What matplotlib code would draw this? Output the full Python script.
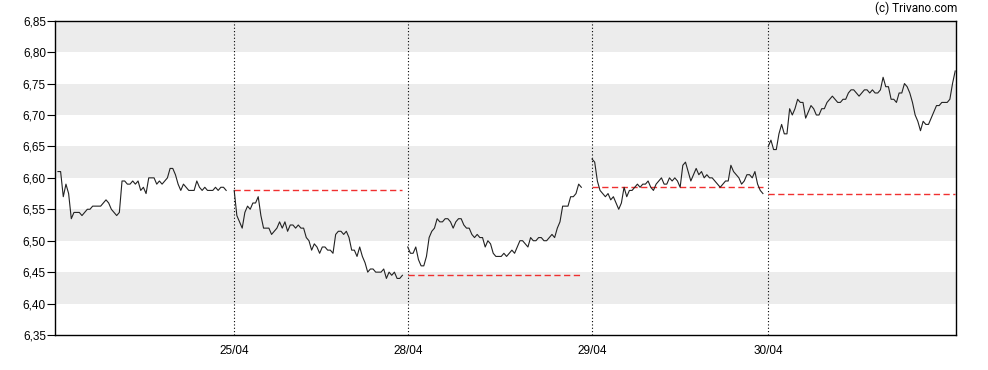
import numpy as np
import matplotlib.pyplot as plt

# intraday prices, one list per trading day
day1 = [6.61, 6.61, 6.57, 6.59, 6.575, 6.535, 6.545, 6.545, 6.545, 6.54,
        6.545, 6.55, 6.55, 6.555, 6.555, 6.555, 6.555, 6.56, 6.565, 6.56,
        6.55, 6.545, 6.54, 6.545, 6.595, 6.595, 6.59, 6.59, 6.595, 6.59,
        6.595, 6.58, 6.585, 6.575, 6.60, 6.60, 6.60, 6.59, 6.595, 6.59,
        6.595, 6.60, 6.615, 6.615, 6.605, 6.59, 6.58, 6.59, 6.585, 6.58,
        6.58, 6.58, 6.595, 6.585, 6.58, 6.585, 6.58, 6.58, 6.58, 6.585,
        6.58, 6.585, 6.585, 6.58]
day2 = [6.58, 6.54, 6.53, 6.52, 6.545, 6.555, 6.55, 6.56, 6.56, 6.57,
        6.54, 6.52, 6.52, 6.52, 6.51, 6.515, 6.52, 6.53, 6.52, 6.53,
        6.515, 6.525, 6.525, 6.52, 6.525, 6.52, 6.52, 6.505, 6.50, 6.485,
        6.495, 6.49, 6.48, 6.49, 6.49, 6.485, 6.485, 6.48, 6.51, 6.515,
        6.515, 6.51, 6.515, 6.505, 6.485, 6.485, 6.475, 6.49, 6.475, 6.465,
        6.45, 6.455, 6.455, 6.45, 6.45, 6.45, 6.455, 6.44, 6.45, 6.445,
        6.45, 6.44, 6.44, 6.445]
day3 = [6.49, 6.48, 6.48, 6.49, 6.47, 6.46, 6.46, 6.475, 6.505, 6.515,
        6.52, 6.535, 6.53, 6.53, 6.535, 6.535, 6.53, 6.52, 6.53,
        6.535, 6.535, 6.525, 6.52, 6.52, 6.51, 6.505, 6.51, 6.505, 6.505,
        6.49, 6.50, 6.495, 6.48, 6.475, 6.475, 6.475, 6.48, 6.475, 6.48,
        6.485, 6.48, 6.49, 6.50, 6.50, 6.495, 6.49, 6.505, 6.50, 6.50,
        6.505, 6.505, 6.50, 6.50, 6.505, 6.51, 6.505, 6.52, 6.53,
        6.555, 6.555, 6.555, 6.57, 6.57, 6.575, 6.59, 6.585]
day4 = [6.63, 6.625, 6.595, 6.58, 6.575, 6.57, 6.575, 6.565, 6.57, 6.56,
        6.55, 6.56, 6.585, 6.57, 6.58, 6.58, 6.585, 6.59,
        6.585, 6.59, 6.59, 6.595, 6.585, 6.58, 6.59, 6.595, 6.60, 6.59,
        6.59, 6.60, 6.595, 6.60, 6.595, 6.585, 6.62, 6.625, 6.61, 6.595,
        6.605, 6.615, 6.605, 6.61, 6.60, 6.605, 6.60, 6.60, 6.595, 6.59,
        6.585, 6.59, 6.595, 6.595, 6.62, 6.61, 6.605, 6.60, 6.59, 6.595,
        6.605, 6.605, 6.60, 6.61, 6.59, 6.58, 6.575]
day5 = [6.65, 6.66, 6.645, 6.645, 6.67, 6.685, 6.67, 6.67, 6.71, 6.70,
        6.71, 6.725, 6.72, 6.72, 6.695, 6.705, 6.715, 6.71, 6.70, 6.70,
        6.71, 6.71, 6.72, 6.725, 6.73, 6.725, 6.72, 6.72, 6.725, 6.725,
        6.735, 6.74, 6.74, 6.735, 6.73, 6.735, 6.74, 6.74, 6.735, 6.74,
        6.735, 6.735, 6.74, 6.76, 6.745, 6.745, 6.725, 6.725, 6.72, 6.735,
        6.735, 6.75, 6.745, 6.735, 6.72, 6.70, 6.69, 6.675, 6.69, 6.685,
        6.685, 6.695, 6.705, 6.715, 6.715, 6.72, 6.72, 6.72, 6.725, 6.75, 6.77]
days = [day1, day2, day3, day4, day5]
day_labels = ["", "25/04", "28/04", "29/04", "30/04"]
session_len = [66, 65, 69, 66, 71]   # samples per day slot

y_ticks = np.arange(6.35, 6.851, 0.05)

plt.rcParams['font.family'] = ['Liberation Sans', 'DejaVu Sans']

fig = plt.figure(figsize=(9.88, 3.70), dpi=100)
ax = fig.add_axes([55 / 988, 1 - 335 / 370, 901 / 988, 314.3 / 370])

starts = np.concatenate([[0], np.cumsum(session_len)[:-1]])

# alternating grey bands
for i in range(len(y_ticks) - 1):
    if i % 2 == 1:
        ax.axhspan(y_ticks[i], y_ticks[i + 1], color='#ececec', lw=0, zorder=0)

for d, prices in enumerate(days):
    x = starts[d] + np.arange(len(prices))
    ax.plot(x, prices, color='#222222', lw=0.8, zorder=3)
    if d > 0:
        prev_close = days[d - 1][-1]
        ax.hlines(prev_close, x[0], x[-1], colors='#f03030', lw=1.0,
                  linestyles=(0, (4.5, 2.5)), zorder=2)
        ax.axvline(starts[d], color='black', lw=0.8, linestyle=(0, (1, 2)), zorder=1)

ax.set_xlim(-1.1, starts[-1] + len(day5) - 1 + 0.3)
ax.set_ylim(6.35, 6.85)
ax.set_yticks(y_ticks)
ax.set_yticklabels([f"{v:.2f}".replace('.', ',') for v in y_ticks])
ax.set_xticks(starts[1:])
ax.set_xticklabels(day_labels[1:])
ax.tick_params(axis='y', length=6, width=0.8, pad=0.5, labelsize=8.5)
ax.tick_params(axis='x', length=0, pad=7, labelsize=8.5)
for s in ax.spines.values():
    s.set_linewidth(1.0)

fig.text(957 / 988, 1 - 8.5 / 370, "(c) Trivano.com", ha='right', va='center',
         fontsize=8.5, family=['Roboto', 'DejaVu Sans'])

fig.savefig('out.png', dpi=100)
